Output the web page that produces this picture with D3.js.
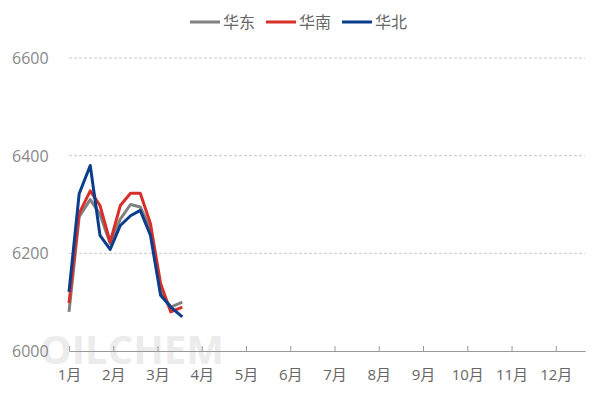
<!DOCTYPE html>
<html><head><meta charset="utf-8">
<script src="https://cdn.jsdelivr.net/npm/d3@7"></script>
<style>body{margin:0;background:#fff}</style></head>
<body><svg id="c" width="600" height="400"></svg>
<script>
const months = ['1月','2月','3月','4月','5月','6月','7月','8月','9月','10月','11月','12月']
const weeks = [0, 0.23, 0.48, 0.7, 0.93, 1.16, 1.39, 1.61, 1.84, 2.07, 2.3, 2.56]
const east = [6080, 6275, 6310, 6280, 6220, 6270, 6300, 6295, 6250, 6120, 6090, 6100]
const south = [6098, 6282, 6328, 6298, 6223, 6298, 6323, 6323, 6261, 6138, 6080, 6090]
const north = [6121, 6322, 6380, 6237, 6208, 6257, 6277, 6288, 6237, 6114, 6090, 6070]
const yTicks = [6000, 6200, 6400, 6600]
const series = [
  {name: '华东', values: east, color: '#808080'},
  {name: '华南', values: south, color: '#d7302a'},
  {name: '华北', values: north, color: '#0b3d8c'}
]

const svg = d3.select('#c')
const font = "'Open Sans', 'Noto Sans CJK SC', sans-serif"
const x = d3.scaleLinear().domain([0, 11.66]).range([69, 585])
const y = d3.scaleLinear().domain([6000, 6600]).range([351, 58])

// watermark
svg.append('text').attr('x', 40).attr('y', 364).text('OILCHEM')
  .attr('fill', '#ececec').style('font', `bold 40px ${font}`)

svg.append('g').selectAll('line').data(yTicks.slice(1)).join('line')
  .attr('x1', 69).attr('x2', 585).attr('y1', d => y(d)).attr('y2', d => y(d))
  .attr('stroke', '#c8c8c8').attr('stroke-dasharray', '3,2')

svg.append('g').selectAll('text').data(yTicks).join('text')
  .attr('x', 12).attr('y', d => y(d) + 6).text(d => d)
  .attr('fill', '#888').style('font', `16px ${font}`)

const xAxis = svg.append('g').attr('transform', 'translate(0,351)')
  .call(d3.axisBottom(x).tickValues(d3.range(12)).tickSize(-5).tickFormat(i => months[i]).tickSizeOuter(0))
xAxis.select('.domain').attr('stroke', '#999')
xAxis.selectAll('line').attr('stroke', '#999')
xAxis.selectAll('text').attr('fill', '#666').attr('dy', 26).style('font', `15px ${font}`)

const line = d3.line().x((d, i) => x(weeks[i])).y(d => y(d))
svg.append('g').selectAll('path').data(series).join('path')
  .attr('d', s => line(s.values)).attr('fill', 'none')
  .attr('stroke', s => s.color).attr('stroke-width', 3).attr('stroke-linejoin', 'round')

const lg = svg.append('g').selectAll('g').data(series).join('g')
  .attr('transform', (s, i) => `translate(${190 + i * 76},22)`)
lg.append('line').attr('x1', 0).attr('x2', 30).attr('stroke', s => s.color).attr('stroke-width', 3)
lg.append('text').attr('x', 33).attr('y', 6).text(s => s.name)
  .attr('fill', '#666').style('font', `16px ${font}`)
</script></body></html>
